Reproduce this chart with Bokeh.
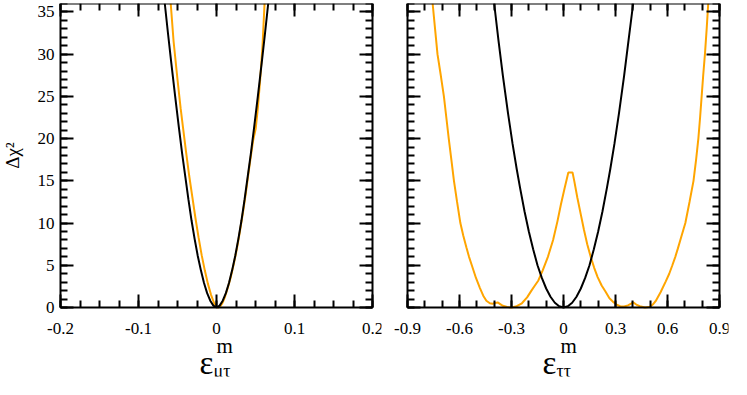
import math
from bokeh.plotting import figure
from bokeh.layouts import row
from bokeh.models import Range1d, FixedTicker, LinearAxis
from bokeh.core.properties import value
from bokeh.embed import file_html
from bokeh.resources import INLINE

# ---------------- data ----------------
# left panel: eps_mu_tau
mt_black_x = [-0.0663, -0.062, -0.058, -0.053, -0.0482, -0.044, -0.040, -0.036, -0.032, -0.028, -0.024, -0.020,
              -0.016, -0.012, -0.008, -0.004, 0.0, 0.004, 0.008, 0.012, 0.016, 0.020, 0.024, 0.028, 0.032,
              0.036, 0.040, 0.044, 0.0482, 0.053, 0.058, 0.062, 0.0663]
mt_black_y = [36.0, 32.3, 29.0, 25.0, 21.3, 18.2, 15.5, 12.8, 10.3, 8.1, 6.1, 4.4,
              2.9, 1.7, 0.8, 0.22, 0.0, 0.22, 0.8, 1.7, 2.9, 4.4, 6.1, 8.1, 10.3,
              12.8, 15.5, 18.2, 21.3, 25.0, 29.0, 32.3, 36.0]
mt_orange_x = [-0.0587, -0.055, -0.050, -0.046, -0.0428, -0.039, -0.035, -0.031, -0.027, -0.023, -0.019, -0.015,
               -0.011, -0.007, -0.003, 0.0, 0.002, 0.005, 0.008, 0.011, 0.0147, 0.018, 0.022, 0.026, 0.030,
               0.034, 0.0377, 0.041, 0.044, 0.047, 0.0503, 0.053, 0.056, 0.059, 0.0616]
mt_orange_y = [36.0, 31.5, 27.0, 23.6, 21.2, 18.4, 15.6, 13.1, 10.6, 8.3, 6.2, 4.4,
               2.8, 1.5, 0.5, 0.1, 0.0, 0.15, 0.6, 1.3, 2.4, 3.5, 5.1, 6.9, 9.0,
               11.3, 13.6, 15.9, 17.9, 19.8, 21.2, 23.6, 27.0, 31.0, 36.0]

# right panel: eps_tau_tau
tt_black_x = [-0.40, -0.375, -0.35, -0.32, -0.294, -0.27, -0.25, -0.225, -0.20, -0.175, -0.15, -0.125, -0.10,
              -0.075, -0.05, -0.025, 0.0, 0.025, 0.05, 0.075, 0.10, 0.125, 0.15, 0.175, 0.20, 0.225, 0.25,
              0.27, 0.294, 0.32, 0.35, 0.375, 0.402]
tt_black_y = [36.0, 31.6, 27.5, 23.0, 19.4, 16.4, 14.1, 11.4, 9.0, 6.9, 5.0, 3.5, 2.25,
              1.27, 0.56, 0.14, 0.0, 0.14, 0.56, 1.27, 2.25, 3.5, 5.0, 6.9, 9.0, 11.4, 14.1,
              16.4, 19.4, 23.0, 27.5, 31.6, 36.0]
tt_orange_x = [-0.755, -0.741, -0.727, -0.708, -0.69, -0.676, -0.662, -0.647, -0.632, -0.614, -0.595, -0.578,
               -0.56, -0.545, -0.529, -0.505, -0.482, -0.463, -0.445, -0.425, -0.41, -0.392, -0.38, -0.365,
               -0.35, -0.325, -0.30, -0.27, -0.24, -0.21, -0.185, -0.165, -0.145, -0.12, -0.09, -0.06,
               -0.035, -0.015, 0.005, 0.02, 0.028, 0.052, 0.062, 0.08, 0.10, 0.118, 0.137, 0.157, 0.177,
               0.197, 0.22, 0.242, 0.265, 0.29, 0.31, 0.327, 0.35, 0.372, 0.39, 0.402, 0.42, 0.44, 0.47,
               0.50, 0.515, 0.533, 0.56, 0.59, 0.61, 0.628, 0.645, 0.66, 0.68, 0.703, 0.727, 0.75, 0.765,
               0.778, 0.788, 0.797, 0.806, 0.816, 0.826, 0.835]
tt_orange_y = [36.0, 33.0, 30.0, 27.5, 25.0, 22.5, 20.0, 17.5, 15.0, 12.5, 10.0, 8.5,
               7.1, 6.0, 5.0, 3.5, 2.3, 1.4, 0.8, 0.5, 0.45, 0.55, 0.6, 0.4,
               0.2, 0.05, 0.0, 0.15, 0.5, 1.2, 2.0, 2.6, 3.2, 4.4, 6.0, 8.0,
               10.2, 12.2, 14.0, 15.3, 16.0, 16.0, 15.0, 13.0, 11.0, 9.2, 7.5, 6.0, 4.7,
               3.6, 2.6, 1.9, 1.1, 0.6, 0.3, 0.15, 0.12, 0.25, 0.45, 0.6, 0.35, 0.15, 0.0,
               0.1, 0.35, 0.8, 1.8, 3.1, 4.0, 5.0, 6.0, 7.0, 8.4, 10.0, 12.5, 15.0, 17.5,
               20.0, 22.5, 25.0, 27.5, 30.0, 33.0, 36.0]

# ticks and labels
mt_lim = (-0.2, 0.2)
mt_major = [-0.2, -0.1, 0.0, 0.1, 0.2]
mt_labels = ["-0.2", "-0.1", "0", "0.1", "0.2"]
mt_minor = [round(-0.2 + 0.025 * i, 4) for i in range(17)]
tt_lim = (-0.9, 0.9)
tt_major = [-0.9, -0.6, -0.3, 0.0, 0.3, 0.6, 0.9]
tt_labels = ["-0.9", "-0.6", "-0.3", "0", "0.3", "0.6", "0.9"]
tt_minor = [round(-0.9 + 0.1 * i, 3) for i in range(19)]
y_lim = (0, 36)
y_major = [0, 5, 10, 15, 20, 25, 30, 35]
y_labels = ["0", "5", "10", "15", "20", "25", "30", "35"]
y_minor = list(range(0, 37))
y_title = "Δχ²"

ORANGE = "#FFA500"
FONT = "Liberation Serif"

# ---------------- layout (px) ----------------
H = 379          # figure height
B = 3            # min border all round
BOX_W = 312      # plotting box width
BOX_H = 304      # plotting box height
BOX_TOP = 3      # canvas y of box top


def style_axis(ax, major, minor, loc, bounds):
    ax.ticker = FixedTicker(ticks=major, minor_ticks=minor)
    ax.fixed_location = loc
    ax.bounds = bounds
    ax.axis_line_color = "black"
    ax.axis_line_width = 2
    ax.major_tick_line_color = "black"
    ax.minor_tick_line_color = "black"
    ax.major_tick_line_width = 2
    ax.minor_tick_line_width = 2
    ax.major_tick_in = 13
    ax.major_tick_out = 0
    ax.minor_tick_in = 7
    ax.minor_tick_out = 0
    ax.major_label_overrides = {t: "" for t in major}
    ax.major_label_standoff = 0
    ax.major_label_text_font_size = "1px"
    ax.axis_label = None


def make_panel(width, box_left, xlim, xmajor, xminor, xlabels, sub, show_y, offs):
    ppx = BOX_W / (xlim[1] - xlim[0])
    ppu = BOX_H / (y_lim[1] - y_lim[0])
    fw = width - 2 * B
    fh = H - 2 * B
    x0 = xlim[0] - (box_left - B) / ppx
    x1 = x0 + fw / ppx
    y1 = y_lim[1] + (BOX_TOP - B) / ppu
    y0 = y1 - fh / ppu
    p = figure(width=width, height=H, x_range=Range1d(x0, x1), y_range=Range1d(y0, y1),
               output_backend="svg", toolbar_location=None,
               min_border_left=B, min_border_right=B, min_border_top=B, min_border_bottom=B)
    p.grid.visible = False
    p.outline_line_color = None
    p.background_fill_color = "white"
    p.border_fill_color = "white"

    # four axes framing the box, ticks pointing inward
    style_axis(p.xaxis[0], xmajor, xminor, y_lim[0], xlim)
    style_axis(p.yaxis[0], y_major, y_minor, xlim[0], y_lim)
    ax = LinearAxis()
    style_axis(ax, xmajor, xminor, y_lim[1], xlim)
    p.add_layout(ax, "above")
    ax = LinearAxis()
    style_axis(ax, y_major, y_minor, xlim[1], y_lim)
    p.add_layout(ax, "right")

    # tick labels
    p.text(x=xmajor, y=[y_lim[0] - 21 / ppu] * len(xmajor), text=xlabels,
           text_font=value(FONT), text_font_size="17px", text_color="black",
           text_align="center", text_baseline="alphabetic")
    if show_y:
        p.text(x=[xlim[0] - 6 / ppx] * len(y_major), y=y_major, text=y_labels,
               text_font=value(FONT), text_font_size="17px", text_color="black",
               text_align="right", text_baseline="middle")
        p.text(x=[xlim[0] - 48 / ppx], y=[(y_lim[0] + y_lim[1]) / 2], text=[y_title],
               angle=math.pi / 2, text_font=value(FONT), text_font_size="19px", text_color="black",
               text_align="center", text_baseline="middle")

    # x axis title: epsilon with superscript m and subscript
    xc = (xlim[0] + xlim[1]) / 2
    p.text(x=[xc], y=[y_lim[0] - 55 / ppu], text=["ε"], x_offset=offs[0],
           text_font=value(FONT), text_font_size="33px", text_color="black",
           text_baseline="alphabetic", text_align="left")
    p.text(x=[xc], y=[y_lim[0] - 38 / ppu], text=["m"], x_offset=offs[1],
           text_font=value(FONT), text_font_size="21px", text_color="black",
           text_baseline="alphabetic", text_align="left")
    p.text(x=[xc], y=[y_lim[0] - 63 / ppu], text=[sub], x_offset=offs[2],
           text_font=value(FONT), text_font_size="18px", text_color="black",
           text_baseline="alphabetic", text_align="left")
    return p


p1 = make_panel(384, 60, mt_lim, mt_major, mt_minor, mt_labels, "μτ", True, (-17, 0, -3))
p1.line(mt_orange_x, mt_orange_y, line_color=ORANGE, line_width=2)
p1.line(mt_black_x, mt_black_y, line_color="black", line_width=2)

p2 = make_panel(347, 23, tt_lim, tt_major, tt_minor, tt_labels, "ττ", False, (-21, -3, -7))
p2.line(tt_orange_x, tt_orange_y, line_color=ORANGE, line_width=2)
p2.line(tt_black_x, tt_black_y, line_color="black", line_width=2)

layout = row(p1, p2, spacing=0)
open("out.html", "w").write(file_html(layout, INLINE))
